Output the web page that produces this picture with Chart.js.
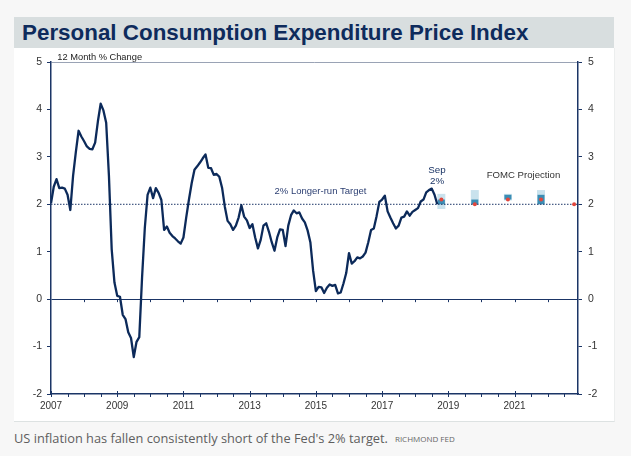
<!DOCTYPE html>
<html><head><meta charset="utf-8">
<script src="https://cdn.jsdelivr.net/npm/chart.js@4"></script>
<style>
html,body{margin:0;padding:0;background:#f7f7f7;width:631px;height:456px;overflow:hidden;}
#band{position:absolute;left:14px;top:17px;width:600px;height:31px;background:#d8dedf;}
#title{position:absolute;left:22px;top:17px;font:bold 22.4px "Liberation Sans",Arial,sans-serif;color:#0e2b5c;line-height:31px;white-space:nowrap;}
#box{position:absolute;left:14px;top:48px;width:600px;height:373px;background:#fff;border-bottom:1px solid #dde2e2;border-right:1px solid #eceeee;}
#wrap{position:absolute;left:14px;top:48px;width:600px;height:373px;}
#cap{position:absolute;left:14px;top:429px;font:12.8px "Open Sans",sans-serif;color:#5e5e5e;white-space:nowrap;}
#cap span{font-size:8px;margin-left:7px;color:#666;vertical-align:1px;}
</style>
</head><body>
<div id="band"></div>
<div id="title">Personal Consumption Expenditure Price Index</div>
<div id="box"></div>
<div id="wrap"><canvas id="c" width="600" height="373"></canvas></div>
<div id="cap">US inflation has fallen consistently short of the Fed's 2% target.<span>RICHMOND FED</span></div>
<script>
// ---- data ----
const startYear = 2007; // monthly series starts Jan 2007
const pce = [
  2.02, 2.37, 2.53, 2.34, 2.35, 2.33, 2.2, 1.88, 2.6, 3.1, 3.55, 3.43,
  3.33, 3.22, 3.17, 3.16, 3.3, 3.75, 4.12, 3.98, 3.72, 2.6, 1.05, 0.35,
  0.07, 0.05, -0.33, -0.42, -0.7, -0.82, -1.22, -0.9, -0.8, 0.45, 1.5, 2.2,
  2.35, 2.13, 2.34, 2.24, 2.09, 1.46, 1.53, 1.4, 1.33, 1.28, 1.22, 1.17,
  1.3, 1.72, 2.1, 2.45, 2.73, 2.8, 2.88, 2.97, 3.05, 2.77, 2.76, 2.62,
  2.64, 2.58, 2.35, 1.95, 1.65, 1.58, 1.46, 1.55, 1.72, 1.98, 1.74, 1.66,
  1.5, 1.58, 1.3, 1.07, 1.25, 1.55, 1.6, 1.42, 1.2, 1.02, 1.3, 1.47,
  1.46, 1.12, 1.55, 1.77, 1.87, 1.81, 1.83, 1.7, 1.62, 1.45, 1.2, 0.6,
  0.17, 0.26, 0.25, 0.13, 0.24, 0.31, 0.28, 0.3, 0.12, 0.14, 0.33, 0.55,
  0.97, 0.75, 0.8, 0.88, 0.86, 0.9, 0.98, 1.2, 1.46, 1.49, 1.75, 2.05,
  2.1, 2.18, 1.85, 1.72, 1.6, 1.49, 1.55, 1.72, 1.74, 1.85, 1.76, 1.84,
  1.88, 1.92, 2.06, 2.1, 2.25, 2.3, 2.33, 2.2, 2.0
];
const targetValue = 2;
const projYears = [2018.79, 2019.8, 2020.8, 2021.8];
const projMedian = [2.1, 2.0, 2.1, 2.1];
const projRangeLow = [1.9, 2.0, 2.08, 2.0];
const projRangeHigh = [2.22, 2.3, 2.22, 2.3];
const projCentralLow = [2.0, 2.0, 2.1, 2.0];
const projCentralHigh = [2.1, 2.1, 2.2, 2.2];
const longerRunYear = 2022.8;
const longerRunValue = 2.0;
const xLabelYears = [2007, 2009, 2011, 2013, 2015, 2017, 2019, 2021];
const yTickValues = [-2, -1, 0, 1, 2, 3, 4, 5];
const xMin = 2007, xMax = 2022.917;

// ---- chart ----
const navy = '#1b3566';
const lineColor = '#0c2a5a';
Chart.defaults.font.family = "'Liberation Sans', Arial, sans-serif";

const pcePoints = pce.map((v, i) => ({x: startYear + i / 12, y: v}));
const rangeBars = projYears.map((x, i) => ({x, y: [projRangeLow[i], projRangeHigh[i]]}));
const centralBars = projYears.map((x, i) => ({x, y: [projCentralLow[i], projCentralHigh[i]]}));
const medianPts = projYears.map((x, i) => ({x, y: projMedian[i]})).concat([{x: longerRunYear, y: longerRunValue}]);

const overlay = {
  id: 'overlay',
  afterDraw(chart) {
    const ctx = chart.ctx, xs = chart.scales.x, ys = chart.scales.y;
    const yb = chart.chartArea.bottom, y0 = ys.getPixelForValue(0);
    ctx.save();
    ctx.strokeStyle = navy; ctx.lineWidth = 1;
    for (let v = xMin; v < xMax; v += 0.5) {
      const px = Math.round(xs.getPixelForValue(v)) + 0.5;
      const major = xLabelYears.includes(v);
      ctx.beginPath(); ctx.moveTo(px, major ? yb - 3 : yb); ctx.lineTo(px, yb + 3); ctx.stroke();
    }
    for (let yr = xMin + 1; yr < xMax; yr++) {
      const px = Math.round(xs.getPixelForValue(yr)) + 0.5;
      ctx.beginPath(); ctx.moveTo(px, y0); ctx.lineTo(px, y0 + 3); ctx.stroke();
    }
    const txt = (s, xv, yv, align, color, size) => {
      ctx.font = size + "px 'Liberation Sans', Arial, sans-serif";
      ctx.fillStyle = color; ctx.textAlign = align; ctx.textBaseline = 'middle';
      ctx.fillText(s, xs.getPixelForValue(xv), ys.getPixelForValue(yv));
    };
    txt('12 Month % Change', 2007.19, 5.1, 'left', '#222', 9.3);
    txt('2% Longer-run Target', 2015.14, 2.27, 'center', '#2c3f72', 9.5);
    txt('Sep', 2018.66, 2.71, 'center', '#1b3566', 9.8);
    txt('2%', 2018.66, 2.48, 'center', '#1b3566', 9.8);
    txt('FOMC Projection', 2021.27, 2.6, 'center', '#333', 9.6);
    ctx.restore();
  }
};

new Chart(document.getElementById('c'), {
  type: 'line',
  data: {
    datasets: [
      {type: 'line', data: pcePoints, borderColor: lineColor, borderWidth: 2.3, pointRadius: 0, tension: 0, order: 0, borderJoinStyle: 'round'},
      {type: 'scatter', data: medianPts, backgroundColor: '#e2463c', borderWidth: 0, pointRadius: 2, order: 1},
      {type: 'line', data: [{x: xMin, y: targetValue}, {x: xMax, y: targetValue}], borderColor: navy, borderWidth: 1, borderDash: [1.5, 1.5], pointRadius: 0, order: 2},
      {type: 'bar', data: centralBars, backgroundColor: '#3b8db4', maxBarThickness: 7, grouped: false, order: 3},
      {type: 'bar', data: rangeBars, backgroundColor: '#c9e2ed', maxBarThickness: 8, grouped: false, order: 4}
    ]
  },
  options: {
    responsive: false, animation: false, devicePixelRatio: 1,
    layout: {padding: {top: 14, left: 0, right: 0, bottom: 0}},
    plugins: {legend: {display: false}, tooltip: {enabled: false}},
    scales: {
      x: {
        type: 'linear', min: xMin, max: xMax, offset: false,
        afterBuildTicks(s) { s.ticks = xLabelYears.map(v => ({value: v})); },
        ticks: {color: '#333', font: {size: 10}, padding: 6, maxRotation: 0, autoSkip: false, callback: v => String(v)},
        grid: {display: false, drawTicks: false},
        border: {display: true, color: navy, width: 1.5},
        afterFit(s) { s.height = 27; }
      },
      y: {
        position: 'left', min: -2, max: 5,
        afterBuildTicks(s) { s.ticks = yTickValues.map(v => ({value: v})); },
        ticks: {color: '#333', font: {size: 10.5}, padding: 5},
        grid: {
          color: c => c.tick.value === 0 ? navy : (c.tick.value === 5 ? '#9aa3b5' : 'rgba(0,0,0,0)'),
          lineWidth: 1, tickColor: navy, tickWidth: 1, tickLength: 4, drawTicks: true
        },
        border: {display: true, color: navy, width: 1.5},
        afterFit(s) { s.width = 37; }
      },
      y2: {
        position: 'right', min: -2, max: 5,
        afterBuildTicks(s) { s.ticks = yTickValues.map(v => ({value: v})); },
        ticks: {color: '#333', font: {size: 10.5}, padding: 6},
        grid: {drawOnChartArea: false, tickColor: navy, tickWidth: 1, tickLength: 4},
        border: {display: true, color: navy, width: 1.5},
        afterFit(s) { s.width = 36; }
      }
    }
  },
  plugins: [overlay]
});
</script>
</body></html>
